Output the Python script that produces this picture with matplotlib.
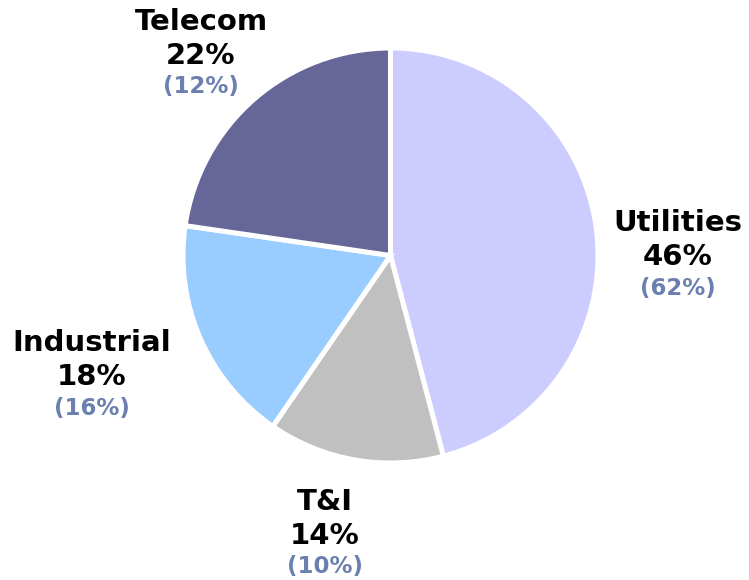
import matplotlib
matplotlib.use("Agg")
import matplotlib.pyplot as plt

# segment data
labels = ["Utilities", "T&I", "Industrial", "Telecom"]
shares = [45.9, 13.7, 17.7, 22.7]      # wedge sizes as drawn
share_text = [46, 14, 18, 22]          # percentages as printed
prior = [62, 10, 16, 12]
colors = ["#CCCCFF", "#C0C0C0", "#99CCFF", "#666699"]

SUB_COLOR = "#6B80B0"

# label anchors in figure pixels (x, y of the name line, from top)
label_pos = {
    "Utilities": (678, 223),
    "T&I": (325, 502),
    "Industrial": (92, 343),
    "Telecom": (201, 22),
}

W, H = 749, 580
fig = plt.figure(figsize=(W / 100, H / 100), dpi=100)
ax = fig.add_axes([0, 0, 1, 1])
ax.axis("off")

ax.pie(shares, colors=colors, startangle=90, counterclock=False,
       center=(390.5, H - 255.5), radius=207.5,
       wedgeprops=dict(edgecolor="white", linewidth=3.6))
ax.set_xlim(0, W)
ax.set_ylim(0, H)
ax.set_aspect("equal")

for name, pct, old in zip(labels, share_text, prior):
    x, y = label_pos[name]
    ax.text(x, H - y, name, ha="center", va="center", fontsize=21,
            fontweight="bold", color="black")
    ax.text(x, H - y - 34, f"{pct}%", ha="center", va="center", fontsize=21,
            fontweight="bold", color="black")
    ax.text(x, H - y - 65, f"({old}%)", ha="center", va="center", fontsize=16.5,
            fontweight="bold", color=SUB_COLOR)

fig.savefig("out.png", dpi=100)
